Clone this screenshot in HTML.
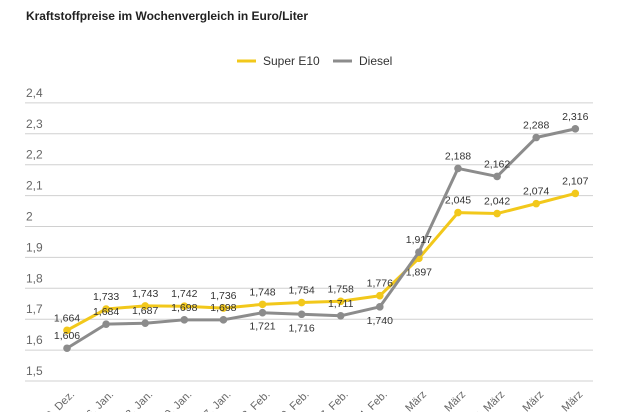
<!DOCTYPE html>
<html><head><meta charset="utf-8"><style>
body{margin:0;background:#fff;}
svg{display:block;font-family:"Liberation Sans",sans-serif;}
</style></head><body>
<svg id="c" width="630" height="412" viewBox="0 0 630 412">
<text x="26" y="20" font-size="12" font-weight="bold" fill="#222" textLength="282">Kraftstoffpreise im Wochenvergleich in Euro/Liter</text>
<g>
<g><line x1="237" y1="61" x2="256" y2="61" stroke="#f2c81b" stroke-width="3"/><text x="263" y="65" font-size="12" fill="#333">Super E10</text></g>
<g><line x1="333" y1="61" x2="352" y2="61" stroke="#8c8c8c" stroke-width="3"/><text x="359" y="65" font-size="12" fill="#333">Diesel</text></g>
</g>
<g id="grid"></g><g id="xl"></g><g id="series"></g>
</svg>
<script>
const categories=["30. Dez.","6. Jan.","13. Jan.","20. Jan.","27. Jan.","3. Feb.","10. Feb.","17. Feb.","24. Feb.","3. März","10. März","17. März","24. März","31. März"];
const superE10=[1.664,1.733,1.743,1.742,1.736,1.748,1.754,1.758,1.776,1.897,2.045,2.042,2.074,2.107];
const diesel=[1.606,1.684,1.687,1.698,1.698,1.721,1.716,1.711,1.740,1.917,2.188,2.162,2.288,2.316];
const yTicks=[1.5,1.6,1.7,1.8,1.9,2.0,2.1,2.2,2.3,2.4];
const superLabelBelow=[0,0,0,0,0,0,0,0,0,1,0,0,0,0];
const dieselLabelBelow=[0,0,0,0,0,1,1,0,1,0,0,0,0,0];
const NS="http://www.w3.org/2000/svg";
const y=v=>381-(v-1.5)*309;
const x=i=>67+i*39.1;
function mk(t,a,p){const e=document.createElementNS(NS,t);for(const k in a)e.setAttribute(k,a[k]);p.appendChild(e);return e;}
const fmt=v=>String(v.toFixed(3)).replace('.',',');
const grid=document.getElementById('grid');
yTicks.forEach(t=>{
 const l=mk('line',{x1:25,x2:593,y1:y(t),y2:y(t),stroke:'#d0d0d0','stroke-width':1},grid);
 
 
 const s=(t===2?'2':t.toFixed(1).replace('.',','));
 const tx=mk('text',{x:26,y:y(t)-6,'font-size':12,fill:'#666'},grid);tx.textContent=s;
 
 
});
const xl=document.getElementById('xl');
categories.forEach((c,i)=>{
 const t=mk('text',{x:x(i)+8,y:395,'font-size':11,fill:'#666','text-anchor':'end',transform:`rotate(-45 ${x(i)+8} 395)`},xl);
 t.textContent=c;
 
 
});
const sg=document.getElementById('series');
function series(vals,col,below,name){
 const g=mk('g',{},sg);
 
 
 const pl=mk('polyline',{points:vals.map((v,i)=>x(i)+','+y(v)).join(' '),fill:'none',stroke:col,'stroke-width':3,'stroke-linejoin':'round'},g);
 
 
 vals.forEach((v,i)=>{
  const c=mk('circle',{cx:x(i),cy:y(v),r:3.8,fill:col},g);
  
  
  const t=mk('text',{x:x(i),y:below[i]?y(v)+17:y(v)-9,'font-size':10.5,fill:'#333','text-anchor':'middle'},g);
  t.textContent=fmt(v);
  
  
 });
}
series(superE10,'#f2c81b',superLabelBelow,'super-e10');
series(diesel,'#8c8c8c',dieselLabelBelow,'diesel');
</script>
</body></html>
